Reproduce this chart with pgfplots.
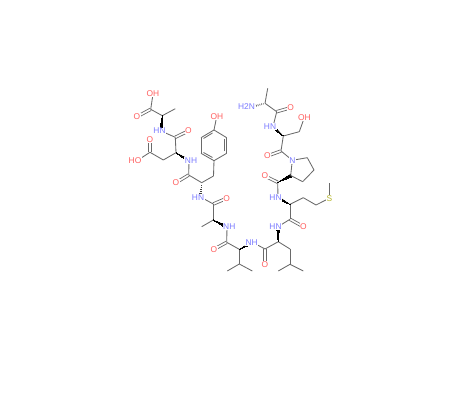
\documentclass[border=0pt]{standalone}
\usepackage{pgfplots}
\pgfplotsset{compat=1.18}
\usepackage{fontspec}
\setmainfont{Liberation Sans}
\definecolor{bondc}{HTML}{6A6A6A}
\definecolor{oc}{HTML}{FF6060}
\definecolor{nc}{HTML}{7C7CFF}
\definecolor{sc}{HTML}{B4B428}
\newcommand\bond[4]{\addplot[bondc,line width=0.85pt,forget plot] coordinates {(#1,#2)(#3,#4)};}
\newcommand\seg[4]{\addplot[black!75,line width=0.55pt,forget plot] coordinates {(#1,#2)(#3,#4)};}
\newcommand\dbond[4]{%
  \pgfmathsetmacro\dx{#3-#1}\pgfmathsetmacro\dy{#4-#2}%
  \pgfmathsetmacro\len{sqrt(\dx*\dx+\dy*\dy)}%
  \pgfmathsetmacro\ox{-\dy/\len*1.3}\pgfmathsetmacro\oy{\dx/\len*1.3}%
  \pgfmathsetmacro\ax{#1+\ox}\pgfmathsetmacro\ay{#2+\oy}\pgfmathsetmacro\bx{#3+\ox}\pgfmathsetmacro\by{#4+\oy}%
  \pgfmathsetmacro\cx{#1-\ox}\pgfmathsetmacro\cy{#2-\oy}\pgfmathsetmacro\ex{#3-\ox}\pgfmathsetmacro\ey{#4-\oy}%
  \addplot[bondc,line width=0.7pt,forget plot] coordinates {(\ax,\ay)(\bx,\by)};
  \addplot[bondc,line width=0.7pt,forget plot] coordinates {(\cx,\cy)(\ex,\ey)};
}
% wedge: narrow at first point, wide at second
\newcommand\wdg[4]{%
  \pgfmathsetmacro\dx{#3-#1}\pgfmathsetmacro\dy{#4-#2}%
  \pgfmathsetmacro\len{sqrt(\dx*\dx+\dy*\dy)}%
  \pgfmathsetmacro\ox{-\dy/\len*1.45}\pgfmathsetmacro\oy{\dx/\len*1.45}%
  \pgfmathsetmacro\bx{#3+\ox}\pgfmathsetmacro\by{#4+\oy}\pgfmathsetmacro\ex{#3-\ox}\pgfmathsetmacro\ey{#4-\oy}%
  \addplot[black,fill=black,line width=0pt,forget plot] coordinates {(#1,#2)(\bx,\by)(\ex,\ey)(#1,#2)};
}
\newcommand\lab[4]{\node[#1,fill=white,inner sep=0.5pt,font=\fontsize{8.4}{9}\selectfont] at (axis cs:#2,#3) {#4};}
\begin{document}
\begin{tikzpicture}
\path[use as bounding box] (0,0) rectangle (451pt,403pt);
\begin{axis}[anchor=south west,at={(0,0)},width=451pt,height=403pt,scale only axis,
  xmin=0,xmax=451,ymin=0,ymax=403,y dir=reverse,hide axis,clip=false]
% C-terminal Ala
\bond{150.7}{109.3}{153}{94}
\dbond{150.7}{109.3}{137}{116.7}
\bond{150.7}{109.3}{162.3}{115.7}
\bond{162.3}{115.7}{175.3}{108.7}
\wdg{162.3}{115.7}{161}{131}
\bond{161}{131}{175.3}{137.3}
\dbond{175.3}{137.3}{188.3}{131}
% Asp
\bond{175.3}{137.3}{176}{152.7}
\bond{176}{152.7}{163.3}{160}
\bond{163.3}{160}{150}{152.3}
\dbond{150}{152.3}{150}{139.3}
\bond{150}{152.3}{137}{160.7}
\wdg{176}{152.7}{189}{160.7}
\bond{189}{160.7}{188.7}{175}
\dbond{188.7}{175}{176}{182.7}
\bond{188.7}{175}{201.7}{182.7}
% Tyr
\bond{201.7}{182.7}{213.5}{176}
\bond{213.5}{176}{214}{160.7}
\bond{214}{160.7}{226.7}{153.3}
\bond{226.7}{153.3}{226.7}{137.7}
\bond{226.7}{137.7}{214}{130}
\bond{214}{130}{201}{137.7}
\bond{201}{137.7}{201}{153.3}
\bond{201}{153.3}{214}{160.7}
\bond{224}{151.5}{224}{139.5}
\bond{212.5}{133}{203.5}{138.5}
\bond{212.5}{157.5}{203.5}{152.5}
\bond{214}{130}{216.7}{116.7}
% hashed Tyr alpha to N
\seg{201}{184.8}{202}{184.8}
\seg{200.6}{186.8}{202.2}{186.8}
\seg{200.1}{188.8}{202.1}{188.8}
\seg{199.7}{190.8}{202.1}{190.8}
\seg{199.3}{192.8}{202.1}{192.8}
\bond{200.5}{197}{213.3}{204}
\dbond{213.3}{204}{226.7}{198.3}
% Ala
\bond{213.3}{204}{213.3}{220}
\bond{213.3}{220}{201.7}{226.7}
\wdg{213.3}{220}{227}{227}
\bond{227}{227}{226.7}{242.3}
\dbond{226.7}{242.3}{214}{249.3}
\bond{226.7}{242.3}{239.3}{249.3}
% Val
\bond{239.3}{249.3}{239.3}{264}
\bond{239.3}{264}{227.3}{271}
\bond{239.3}{264}{252.3}{271}
\wdg{239.3}{249.3}{252.5}{242.3}
\bond{252.5}{242.3}{265}{249}
\dbond{265}{249}{265}{264}
\bond{265}{249}{278.3}{241.7}
% Leu
\bond{278.3}{241.7}{290}{249}
\bond{290}{249}{290}{264.3}
\bond{290}{264.3}{278.3}{271}
\bond{290}{264.3}{303.3}{271}
\wdg{278.3}{241.7}{278}{226.7}
\bond{278}{226.7}{290}{219.3}
\dbond{290}{219.3}{303.3}{226.7}
% Met
\bond{290}{219.3}{290}{204.3}
\bond{290}{204.3}{303.3}{197.7}
\bond{303.3}{197.7}{316}{205}
\bond{316}{205}{329.3}{198.3}
\bond{329.3}{198.3}{329.3}{183.3}
\wdg{290}{204.3}{278}{197.7}
\bond{278}{197.7}{277.7}{182.3}
\dbond{277.7}{182.3}{265.5}{176.3}
% Pro
\wdg{277.7}{182.3}{291}{175.5}
\bond{290.7}{175.5}{292.3}{160.3}
\bond{292.3}{160.3}{307.3}{157.7}
\bond{307.3}{157.7}{314}{170}
\bond{314}{170}{302.7}{181.7}
\bond{302.7}{181.7}{290.7}{175.5}
\bond{292.3}{160.3}{281}{151}
\dbond{281}{151}{267.3}{156}
% Ser
\bond{281}{151}{283.3}{136}
\bond{283.3}{136}{299.3}{131.7}
\bond{299.3}{131.7}{304.3}{117.7}
\wdg{283.3}{136}{273}{126.7}
\bond{273}{126.7}{276.7}{111.7}
\dbond{276.7}{111.7}{290.7}{107.7}
% N-term Ala
\bond{276.7}{111.7}{265}{103.3}
\bond{265}{103.3}{267.7}{88.3}
% hashed Ala alpha to N
\seg{263.2}{103.3}{263.5}{104.3}
\seg{261.4}{103.5}{261.9}{105}
\seg{259.6}{103.9}{260.2}{105.5}
\seg{257.8}{104.3}{258.4}{106.1}
\seg{256}{104.7}{256.7}{106.6}
% labels
\lab{oc}{153}{94}{OH}
\lab{oc}{137}{116.7}{O}
\lab{nc}{159.5}{131}{HN}
\lab{oc}{188.3}{131}{O}
\lab{oc}{150}{139.3}{O}
\lab{oc}{135}{160.7}{HO}
\lab{nc}{191}{160.7}{NH}
\lab{oc}{176}{182.7}{O}
\lab{oc}{217}{116.7}{OH}
\lab{nc}{198}{198}{HN}
\lab{oc}{226.7}{198.3}{O}
\lab{nc}{229.3}{226.7}{NH}
\lab{oc}{214}{249.3}{O}
\lab{nc}{251.7}{242.3}{NH}
\lab{oc}{265}{264.3}{O}
\lab{nc}{275.5}{226.7}{HN}
\lab{oc}{303.3}{226.7}{O}
\lab{nc}{275.5}{197.7}{HN}
\lab{oc}{265}{176}{O}
\lab{nc}{292.3}{160.3}{N}
\lab{oc}{267.3}{156}{O}
\lab{sc}{329.3}{198.3}{S}
\lab{oc}{304.3}{117.7}{OH}
\lab{nc}{270}{126.7}{HN}
\lab{oc}{290.7}{107.7}{O}
\lab{nc}{246.5}{106.7}{H2N}
\end{axis}
\end{tikzpicture}
\end{document}
